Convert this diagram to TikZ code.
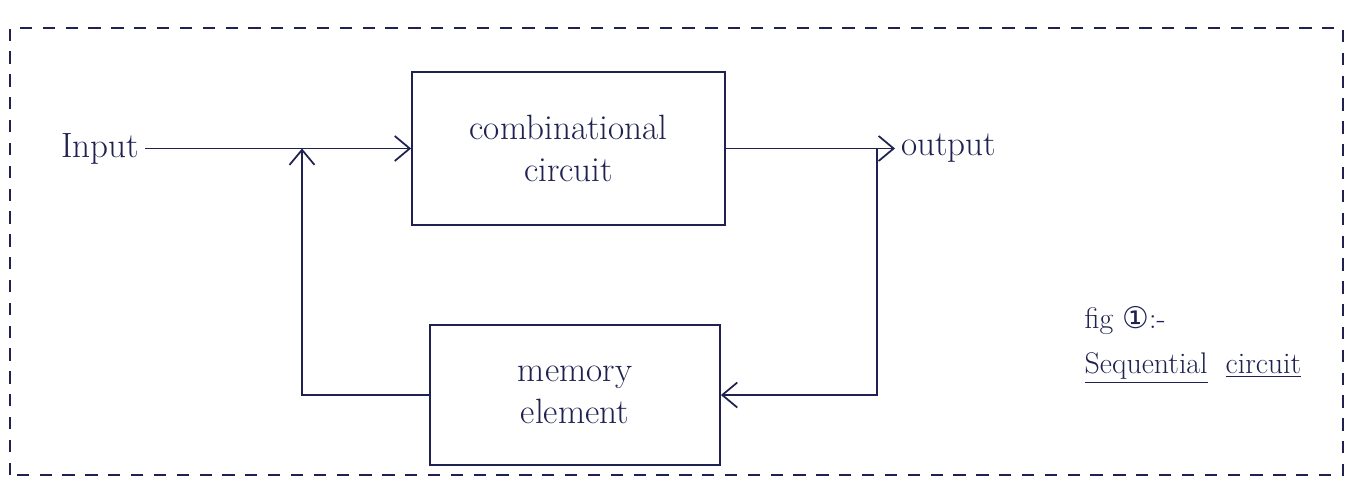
\documentclass[tikz,border=0pt]{standalone}
\usepackage{fontspec}
\newfontfamily\circfont{DejaVu Sans}
\usepackage{tikz}
\usetikzlibrary{arrows.meta,positioning}
\usepackage{xcolor}
\definecolor{ink}{HTML}{1F2250}

\begin{document}
\begin{tikzpicture}[
  blk/.style={draw=ink, line width=1pt, align=center, text=ink, font=\fontsize{20}{24}\selectfont},
  lbl/.style={text=ink, font=\fontsize{20}{24}\selectfont},
  note/.style={text=ink, font=\fontsize{17}{20}\selectfont, anchor=west, inner sep=1pt},
  arr/.style={-{Straight Barb[length=3mm,width=5mm]}, line width=1pt, color=ink},
  frame/.style={draw=ink, line width=0.9pt, dash pattern=on 7pt off 6pt},
]
\useasboundingbox (0,0) rectangle (27.06,9.86);
% Outer dashed frame
\draw[frame] (0.2,0.36) rectangle (26.86,9.3);

% Blocks
\node[blk, minimum width=6.26cm, minimum height=3.06cm] (comb) at (11.37,6.89) {combinational\\circuit};
\node[blk, minimum width=5.8cm, minimum height=2.8cm] (mem) at (11.5,1.96) {memory\\element};

% Input and output
\node[lbl] (in) at (2.0,6.89) {Input};
\node[lbl, anchor=west] (out) at (17.9,6.89) {output};
\coordinate (j) at (6.04,6.89);
\coordinate (b) at (17.54,6.89);

% Figure caption
\node[note] (fig) at (21.65,3.45) {fig {\circfont ①}:-};
\node[note] (seq) at (21.65,2.5) {\underline{Sequential}\ \ \underline{circuit}};

% Connections
\draw[arr] (in) -- (comb);
\draw[arr] (comb) -- (out);
\draw[arr] (b) |- (mem.east);
\draw[arr] (mem.west) -| (j);
\end{tikzpicture}
\end{document}
